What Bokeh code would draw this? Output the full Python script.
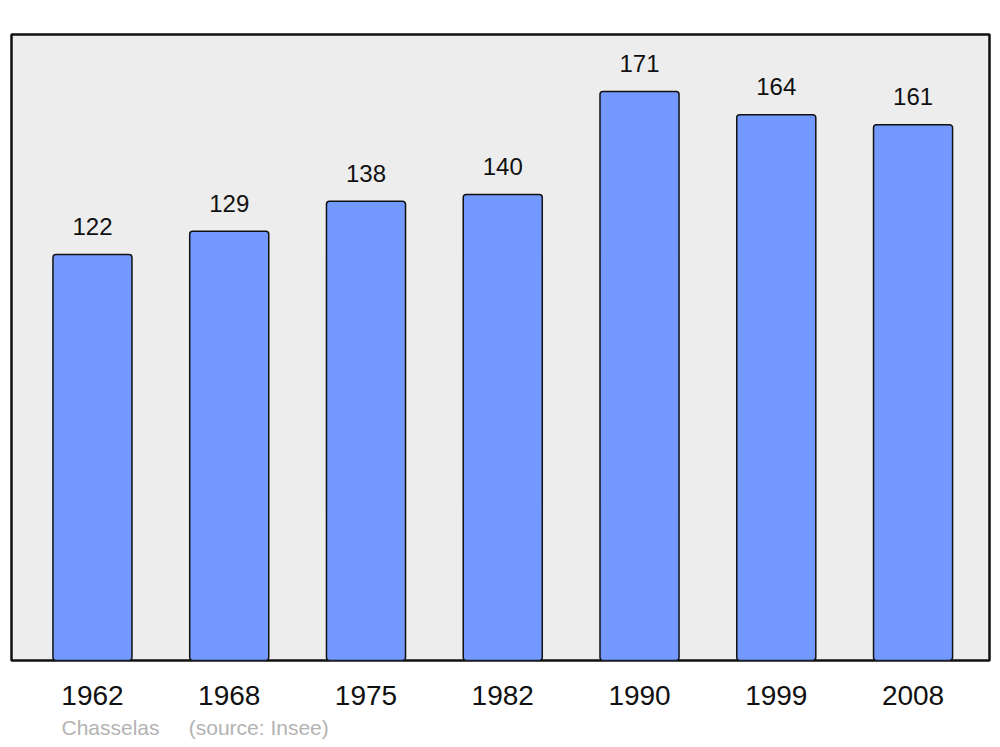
from bokeh.plotting import figure
from bokeh.models import ColumnDataSource, FixedTicker, Range1d, Title
from bokeh.embed import file_html
from bokeh.resources import INLINE
from bokeh.core.properties import value

years = ["1962", "1968", "1975", "1982", "1990", "1999", "2008"]
population = [122, 129, 138, 140, 171, 164, 161]
commune = "Chasselas"
source_note = "(source: Insee)"

idx = list(range(len(years)))
src = ColumnDataSource(dict(x=idx, top=population, label=[str(v) for v in population]))

p = figure(width=995, height=745, output_backend="svg", toolbar_location=None,
           x_range=Range1d(-0.592, 6.559), y_range=Range1d(0, max(population) * 1.1),
           min_border_left=11, min_border_right=6, min_border_top=34, min_border_bottom=85)
p.background_fill_color = "#ededed"
p.border_fill_color = "white"
p.outline_line_color = "#111111"
p.outline_line_width = 2.5
p.xgrid.visible = False
p.ygrid.visible = False
p.yaxis.visible = False

p.vbar(x="x", top="top", bottom=0, width=0.578, source=src,
       fill_color="#7399ff", line_color="#111111", line_width=1.5, border_radius=3)

p.text(x="x", y="top", text="label", source=src, y_offset=-28,
       text_align="center", text_baseline="alphabetic",
       text_font=value("Liberation Sans"), text_font_size="24px", text_color="#111111")

ax = p.xaxis[0]
ax.ticker = FixedTicker(ticks=idx)
ax.major_label_overrides = {i: y for i, y in zip(idx, years)}
ax.axis_line_color = None
ax.major_tick_line_color = None
ax.minor_tick_line_color = None
ax.major_tick_out = 0
ax.major_tick_in = 0
ax.major_label_standoff = 25
ax.major_label_text_font = "Liberation Sans"
ax.major_label_text_font_size = "28px"
ax.major_label_text_color = "#111111"

footer = Title(text=commune + "\u00a0" * 5 + source_note, align="left", offset=50,
               text_font="Liberation Sans", text_font_size="21px",
               text_font_style="normal", text_color="#b3b3b3", standoff=13)
p.add_layout(footer, "below")

open("out.html", "w").write(file_html(p, INLINE))
